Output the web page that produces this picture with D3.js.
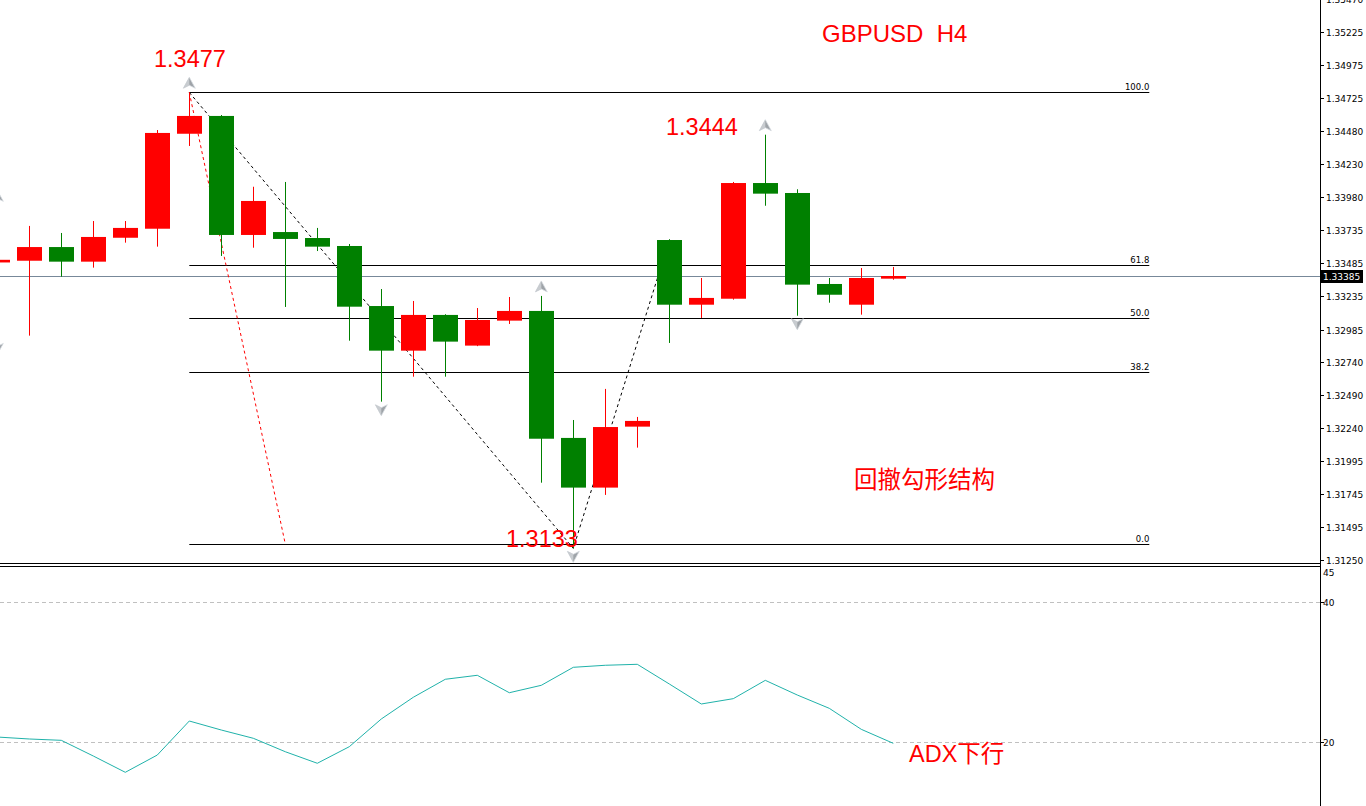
<!DOCTYPE html>
<html><head><meta charset="utf-8">
<script src="https://cdn.jsdelivr.net/npm/d3@7/dist/d3.min.js"></script>
<style>
html,body{margin:0;padding:0;background:#fff;overflow:hidden;}
svg{display:block;}
</style></head>
<body>
<script>
// ---------- DATA ----------
const opens  = [1.3349,1.33503,1.33606,1.33496,1.33676,1.33744,1.34459,1.34593,1.33697,1.33719,1.33674,1.33614,1.33162,1.32826,1.33095,1.32864,1.33052,1.33125,1.32169,1.31795,1.32254,1.33659,1.33172,1.33217,1.34088,1.34013,1.33328,1.33172,1.33368];
const highs  = [1.3352,1.33765,1.33712,1.33802,1.33802,1.34487,1.34771,1.34600,1.34060,1.34096,1.33750,1.33629,1.33290,1.33200,1.33100,1.33147,1.33230,1.33238,1.32304,1.32538,1.32327,1.33665,1.33373,1.34096,1.34452,1.34041,1.33373,1.33448,1.33456];
const lows   = [1.3348,1.32939,1.33383,1.33451,1.33639,1.33609,1.34367,1.33539,1.33601,1.33155,1.33576,1.32901,1.32442,1.32630,1.32630,1.32860,1.33027,1.31832,1.31338,1.31740,1.32096,1.32884,1.33072,1.33210,1.33917,1.33089,1.33187,1.33097,1.33360];
const closes = [1.3351,1.33606,1.33496,1.33682,1.33750,1.34465,1.34593,1.33697,1.33953,1.33667,1.33609,1.33157,1.32826,1.33095,1.32894,1.33057,1.33125,1.32163,1.31795,1.32251,1.32297,1.33172,1.33223,1.34088,1.34008,1.33323,1.33247,1.33373,1.33388];
const adx    = [20.71,20.43,20.24,18.0,15.67,18.14,23.0,21.71,20.53,18.61,16.96,19.33,23.29,26.39,28.96,29.53,27.04,28.1,30.67,30.96,31.1,28.29,25.43,26.19,28.81,26.71,24.81,21.81,19.81];

const priceTicks = [1.35470,1.35225,1.34975,1.34725,1.34480,1.34230,1.33980,1.33735,1.33485,1.33235,1.32985,1.32740,1.32490,1.32240,1.31995,1.31745,1.31495,1.31250];
const adxTicks = [45,40,20];
const adxGrid = [40,20];
const currentPrice = 1.33385;

const fibHigh = 1.3477, fibLow = 1.3137, fibStart = 6, fibEnd = 36;
const fibLevels = [100.0, 61.8, 50.0, 38.2, 0.0];
const fibLabels = ["100.0","61.8","50.0","38.2","0.0"];

const zigzagIdx = [6, 18, 21];
const zigzagPrice = [1.3477, 1.31338, 1.33659];
const redTrendIdx = [6, 9];
const redTrendPrice = [1.3477, 1.3137];

const fractalUpIdx = [0, 6, 17, 24];
const fractalUpPrice = [1.3392, 1.34771, 1.33238, 1.34452];
const fractalDnIdx = [0, 12, 18, 25];
const fractalDnPrice = [1.32903, 1.32442, 1.31338, 1.33089];

const title = "GBPUSD  H4";
const notes = [
  {t:"1.3477", x:154, y:67},
  {t:"1.3444", x:666, y:135},
  {t:"1.3133", x:506, y:547},
  {t:"回撤勾形结构", x:854, y:488},
  {t:"ADX下行", x:909, y:762}
];

// ---------- LAYOUT ----------
const W = 1366, H = 806, axisX = 1320;
const svg = d3.select("body").append("svg").attr("width", W).attr("height", H);

const x = d3.scaleLinear().domain([0, 28]).range([-2.7, 893.3]);
const y = d3.scaleLinear().domain([1.31250, 1.35225]).range([560, 32]);
const ya = d3.scaleLinear().domain([20, 40]).range([742, 602]);

svg.append("defs").append("clipPath").attr("id","mainclip")
  .append("rect").attr("x",0).attr("y",0).attr("width",axisX).attr("height",563);
svg.select("defs").append("clipPath").attr("id","adxclip")
  .append("rect").attr("x",0).attr("y",566).attr("width",axisX).attr("height",H-566);

const main = svg.append("g").attr("clip-path","url(#mainclip)");
const sub = svg.append("g").attr("clip-path","url(#adxclip)");

// current price line
main.append("line").attr("x1",0).attr("x2",axisX)
  .attr("y1",Math.round(y(currentPrice))+0.5).attr("y2",Math.round(y(currentPrice))+0.5)
  .attr("stroke","#778899").attr("stroke-width",1);

// fib lines
fibLevels.forEach((lv,k)=>{
  const p = fibLow + (fibHigh - fibLow) * lv / 100;
  const yy = Math.round(y(p)) + 0.5;
  main.append("line").attr("x1",x(fibStart)).attr("x2",x(fibEnd))
    .attr("y1",yy).attr("y2",yy).attr("stroke","#000").attr("stroke-width",1);
  main.append("text").attr("x",x(fibEnd)).attr("y",yy-3)
    .attr("text-anchor","end").attr("font-family","DejaVu Sans, sans-serif")
    .attr("font-size",8.5).attr("fill","#000").text(fibLabels[k]);
});

// red dashed trend
main.append("line")
  .attr("x1",x(redTrendIdx[0])).attr("y1",y(redTrendPrice[0]))
  .attr("x2",x(redTrendIdx[1])).attr("y2",y(redTrendPrice[1]))
  .attr("stroke","#ff0000").attr("stroke-width",1).attr("stroke-dasharray","3,3");

// zigzag dashed
main.append("path")
  .attr("d", d3.line()(zigzagIdx.map((d,k)=>[x(d), y(zigzagPrice[k])])))
  .attr("fill","none").attr("stroke","#000").attr("stroke-width",1).attr("stroke-dasharray","3,3");

// candles
const bw = 25;
d3.range(opens.length).forEach(i=>{
  const up = closes[i] >= opens[i];
  const col = up ? "#ff0000" : "#008000";
  const cx = Math.round(x(i)) + 0.5;
  main.append("line").attr("x1",cx).attr("x2",cx)
    .attr("y1",y(highs[i])).attr("y2",y(lows[i]))
    .attr("stroke",col).attr("stroke-width",1);
  const t = y(Math.max(opens[i],closes[i])), b = y(Math.min(opens[i],closes[i]));
  main.append("rect").attr("x",Math.round(x(i) - bw/2)).attr("y",t)
    .attr("width",bw).attr("height",Math.max(1,b-t)).attr("fill",col);
});

// fractal arrows
function arrow(cx, cy, upDir){
  const s = upDir ? 1 : -1;
  const g = main.append("g").attr("transform",`translate(${cx},${cy}) scale(1,${s})`);
  g.append("path").attr("d","M0,-6 L6,5 L0,2 L-6,5 Z")
    .attr("fill","#9ea3a8").attr("stroke","#d6dadf").attr("stroke-width",0.8);
  g.append("path").attr("d","M0,-6 L0,2 L-6,5 Z").attr("fill","#c8ccd0");
}
fractalUpIdx.forEach((d,k)=>arrow(x(d), y(fractalUpPrice[k]) - 9, true));
fractalDnIdx.forEach((d,k)=>arrow(x(d), y(fractalDnPrice[k]) + 8, false));

// ADX panel
adxGrid.forEach(v=>{
  sub.append("line").attr("x1",0).attr("x2",axisX)
    .attr("y1",Math.round(ya(v))+0.5).attr("y2",Math.round(ya(v))+0.5)
    .attr("stroke","#c0c0c0").attr("stroke-dasharray","4,3");
});
sub.append("path")
  .attr("d", d3.line().x((d,i)=>x(i)).y(d=>ya(d))(adx))
  .attr("fill","none").attr("stroke","#20b2aa").attr("stroke-width",1);

// panel borders
svg.append("line").attr("x1",0).attr("x2",axisX).attr("y1",563.5).attr("y2",563.5).attr("stroke","#000");
svg.append("line").attr("x1",0).attr("x2",axisX).attr("y1",566.5).attr("y2",566.5).attr("stroke","#000");
svg.append("line").attr("x1",axisX+0.5).attr("x2",axisX+0.5).attr("y1",0).attr("y2",H).attr("stroke","#000");

// price axis
const ax = svg.append("g");
priceTicks.forEach(p=>{
  const yy = Math.round(y(p)) + 0.5;
  ax.append("line").attr("x1",axisX).attr("x2",axisX+4).attr("y1",yy).attr("y2",yy).attr("stroke","#000");
  ax.append("text").attr("x",axisX+6).attr("y",yy).attr("dy","0.35em")
    .attr("font-family","DejaVu Sans, sans-serif").attr("font-size",9).attr("fill","#000")
    .text(p.toFixed(5));
});
// current price label
const cy = Math.round(y(currentPrice));
ax.append("rect").attr("x",axisX+1).attr("y",cy-6).attr("width",42).attr("height",13).attr("fill","#000");
ax.append("text").attr("x",axisX+3).attr("y",cy+0.5).attr("dy","0.35em")
  .attr("font-family","DejaVu Sans, sans-serif").attr("font-size",9).attr("fill","#fff")
  .text(currentPrice.toFixed(5));

// ADX axis
adxTicks.forEach(v=>{
  const yy = v === 45 ? 573 : Math.round(ya(v)) + 0.5;
  if (v !== 45) ax.append("line").attr("x1",axisX).attr("x2",axisX+4).attr("y1",yy).attr("y2",yy).attr("stroke","#000");
  ax.append("text").attr("x",axisX+3).attr("y",yy).attr("dy","0.35em")
    .attr("font-family","DejaVu Sans, sans-serif").attr("font-size",9).attr("fill","#000")
    .text(v);
});

// title & notes
svg.append("text").attr("x",822).attr("y",42).attr("font-family","Liberation Sans, Arial, sans-serif")
  .attr("font-size",24).attr("fill","#ff0000").style("white-space","pre").text(title);
notes.forEach(n=>{
  svg.append("text").attr("x",n.x).attr("y",n.y)
    .attr("font-family","Liberation Sans, Arial, 'Noto Sans CJK SC', sans-serif")
    .attr("font-size",23.5).attr("fill","#ff0000").text(n.t);
});
</script>
</body></html>
